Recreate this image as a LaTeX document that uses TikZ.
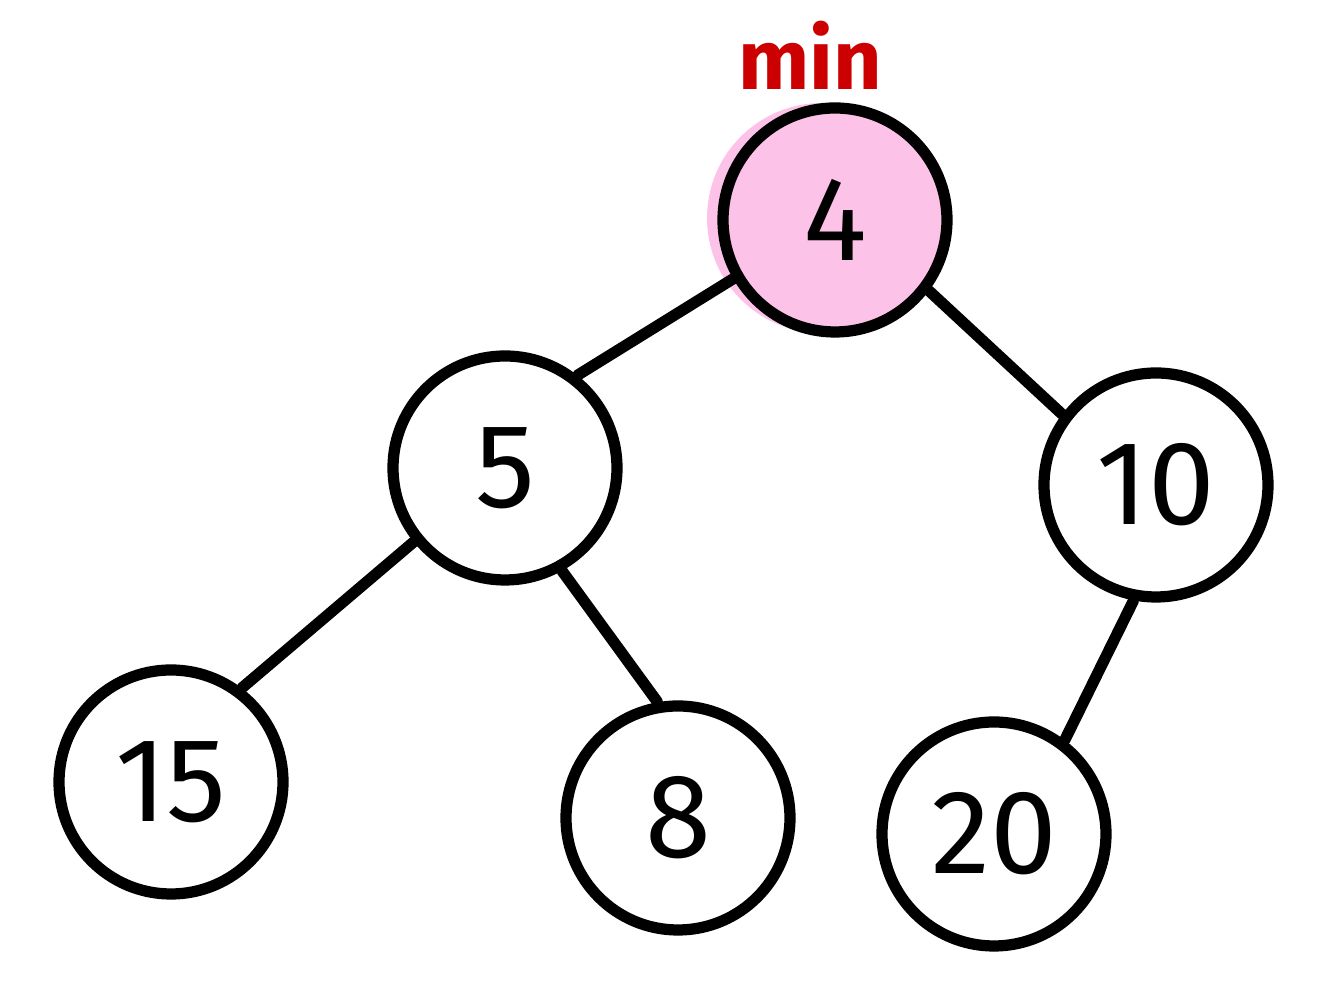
\documentclass[tikz,border=0pt]{standalone}
\usepackage{fontspec}
\setsansfont{Fira Sans}
\definecolor{heappink}{RGB}{253, 194, 232}
\definecolor{minred}{RGB}{204, 0, 0}
\usetikzlibrary{positioning}

\begin{document}
\begin{tikzpicture}[
  hnode/.style={draw, circle, line width=3.2pt, minimum size=2.24cm, inner sep=0pt, fill=white, font=\sffamily\fontsize{34}{34}\selectfont},
  edge/.style={line width=3.2pt, line cap=round}
]
  \useasboundingbox (0,0) rectangle (13.24,-10);

  % pink highlight behind the root
  \fill[heappink] (8.22,-2.18) circle (1.15);

  \node[hnode, fill=heappink] (n4) at (8.35, -2.20) {4};
  \node[hnode] (n5) at (5.05, -4.68) {5};
  \node[hnode] (n10) at (11.56, -4.85) {10};
  \node[hnode] (n15) at (1.71, -7.82) {15};
  \node[hnode] (n8) at (6.78, -8.18) {8};
  \node[hnode] (n20) at (9.94, -8.34) {20};

  \node[text=minred, font=\sffamily\bfseries\fontsize{24}{24}\selectfont, inner sep=0pt] (minlbl) at (8.10, -0.55) {min};

  \draw[edge] (n4.210) -- (n5.52);
  \draw[edge] (n4.323) -- (n10.143);
  \draw[edge] (n5.219) -- (n15.53);
  \draw[edge] (n5.299) -- (n8.100);
  \draw[edge] (n10.259) -- (n20.53);
\end{tikzpicture}
\end{document}
